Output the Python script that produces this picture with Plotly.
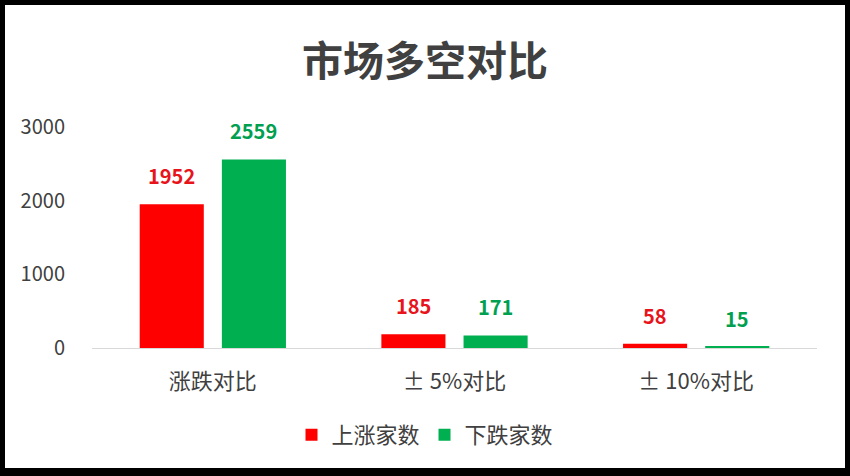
import plotly.graph_objects as go

categories = ["涨跌对比", "± 5%对比", "± 10%对比"]
series_names = ["上涨家数", "下跌家数"]
up_values = [1952, 185, 58]
down_values = [2559, 171, 15]
y_ticks = [0, 1000, 2000, 3000]

bar_colors = ["#FF0000", "#00B050"]
label_colors = ["#E8141C", "#00A050"]
FONT = "Noto Sans CJK SC"
TEXT = "#404040"

W, H = 850, 476
ML, MR, MT, MB = 92, 33, 127, 128
BARGAP = 0.32
pw, ph = W - ML - MR, H - MT - MB

fig = go.Figure()
all_values = [up_values, down_values]
for i, (name, vals) in enumerate(zip(series_names, all_values)):
    fig.add_trace(go.Bar(
        x=categories, y=vals, name=name,
        marker=dict(color=bar_colors[i], line=dict(width=0)),
    ))

annotations = []
for i, vals in enumerate(all_values):
    off = (i - 0.5) * (1 - BARGAP) / 2
    for j, v in enumerate(vals):
        annotations.append(dict(
            x=j + off, y=v, xref="x", yref="y", text=f"<b>{v}</b>",
            showarrow=False, yanchor="bottom", yshift=12,
            font=dict(family=FONT, size=20, color=label_colors[i]),
        ))

# frame: black page edge with white card
def px_to_paper_x(px):
    return (px - ML) / pw

def px_to_paper_y(py):
    return (H - MB - py) / ph

shapes = [dict(
    type="rect", xref="paper", yref="paper", layer="below",
    x0=px_to_paper_x(5), x1=px_to_paper_x(845),
    y0=px_to_paper_y(468), y1=px_to_paper_y(5),
    fillcolor="white", line=dict(width=0),
)]

fig.update_layout(
    width=W, height=H,
    margin=dict(l=ML, r=MR, t=MT, b=MB),
    paper_bgcolor="black", plot_bgcolor="white",
    barmode="group", bargap=BARGAP, bargroupgap=0.22,
    title=dict(
        text="<b>市场多空对比</b>", x=0.5, xanchor="center",
        y=1 - 62 / H, yanchor="middle", yref="container",
        font=dict(family=FONT, size=41, color=TEXT),
    ),
    font=dict(family=FONT, color=TEXT),
    legend=dict(
        orientation="h", x=0.5 - (ML - MR) / 2 / pw, xanchor="center",
        y=px_to_paper_y(435), yanchor="middle",
        font=dict(family=FONT, size=22, color=TEXT),
        itemwidth=30, traceorder="normal", bgcolor="rgba(0,0,0,0)",
    ),
    xaxis=dict(
        type="category", showgrid=False, showline=True,
        linecolor="#D9D9D9", linewidth=1,
        ticks="outside", ticklen=14, tickcolor="rgba(0,0,0,0)",
        tickfont=dict(family=FONT, size=22, color=TEXT),
        fixedrange=True,
    ),
    yaxis=dict(
        range=[0, 3000], tickvals=y_ticks, showgrid=False, zeroline=False,
        showline=False, ticks="outside", ticklen=22, tickcolor="rgba(0,0,0,0)",
        tickfont=dict(family=FONT, size=20, color=TEXT),
        fixedrange=True,
    ),
    annotations=annotations, shapes=shapes,
    showlegend=True,
)

fig.write_html(
    "out.html",
    config={"displayModeBar": False},
    post_script="document.body.style.margin='0';document.body.style.overflow='hidden';",
)
